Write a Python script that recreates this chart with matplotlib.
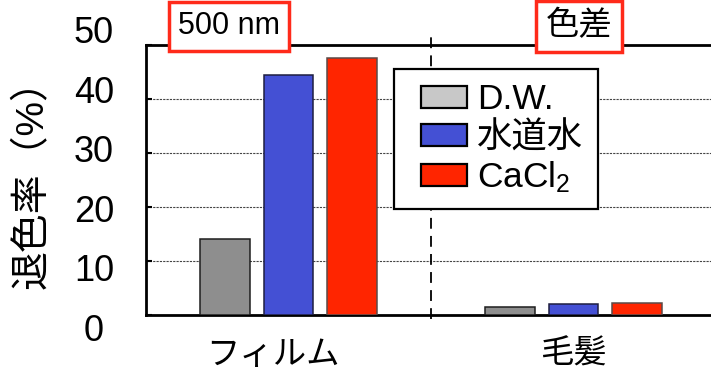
import matplotlib
matplotlib.use('Agg')
import matplotlib.pyplot as plt
import matplotlib.patches as mpatches
from matplotlib.legend_handler import HandlerPatch
from matplotlib.transforms import ScaledTranslation
import numpy as np

plt.rcParams['font.family'] = ['Liberation Sans', 'Noto Sans CJK JP']
plt.rcParams['mathtext.fontset'] = 'custom'
plt.rcParams['mathtext.rm'] = 'Liberation Sans'
plt.rcParams['mathtext.it'] = 'Liberation Sans:italic'

# data
categories = ['フィルム', '毛髪']
series_names = ['D.W.', '水道水', 'CaCl$_2$']
dw_values = [14.1, 1.5]
tap_values = [44.5, 2.1]
cacl2_values = [47.6, 2.2]
y_ticks = [0, 10, 20, 30, 40, 50]
panel_titles = ['500 nm', '色差']

bar_colors = ['#8e8e8e', '#4450d4', '#ff2500']
bar_edges = ['#1e1e1e', '#1e1e40', '#5a4a48']
legend_colors = ['#c8c8c8', '#4450d4', '#ff2500']

W, H = 711, 370
fig = plt.figure(figsize=(W / 100, H / 100), dpi=100)


def fpos(x, y):
    """Pixel position (from top-left) to figure fraction."""
    return x / W, 1 - y / H


ax = fig.add_axes([146 / W, 55 / H, (716 - 146) / W, 270 / H])

x = np.arange(len(categories))
offset, width = 0.222, 0.175
for i, vals in enumerate([dw_values, tap_values, cacl2_values]):
    ax.bar(x + (i - 1) * offset, vals, width, color=bar_colors[i],
           edgecolor=bar_edges[i], linewidth=1.1, zorder=3)

ax.set_xlim(-0.5, 1.5)
ax.set_ylim(0, 50)

for side in ['left', 'top', 'bottom']:
    ax.spines[side].set_linewidth(2)
    ax.spines[side].set_color('black')
ax.spines['right'].set_visible(False)

ax.set_axisbelow(True)
ax.yaxis.grid(True, linestyle=(0, (2, 1)), linewidth=0.8, color='#444444')

# y ticks: inward, labels centred left of the axis
ax.set_yticks(y_ticks)
ax.set_yticklabels([str(v) for v in y_ticks])
ax.tick_params(axis='y', direction='in', length=4, width=1.5,
               labelsize=26, pad=37.4)
for v, lab in zip(y_ticks, ax.get_yticklabels()):
    lab.set_ha('center')
    dy = 12.5 - 0.556 * v
    lab.set_transform(lab.get_transform() +
                      ScaledTranslation(0, -dy / 100, fig.dpi_scale_trans))

# category labels
ax.set_xticks(x)
ax.set_xticklabels(categories)
ax.tick_params(axis='x', length=0, labelsize=24, pad=18)
first = ax.get_xticklabels()[0]
first.set_transform(first.get_transform() +
                    ScaledTranslation(-16 / 100, 0, fig.dpi_scale_trans))

# y axis label
fig.text(*fpos(32, 175), '退色率（%）', rotation=90, ha='center',
         va='center', fontsize=28)

# divider between the two panels
ax.plot([0.5, 0.5], [-0.7, 52.2], color='black', linewidth=1.3,
        linestyle=(0, (6, 4)), clip_on=False, zorder=2)

# panel titles in red boxes
box = dict(boxstyle='square,pad=0.3', facecolor='white',
           edgecolor='#ff2a1a', linewidth=2.5)
fig.text(*fpos(229, 26.5), panel_titles[0], ha='center', va='center',
         fontsize=22, bbox=box)
fig.text(*fpos(579, 26.5), panel_titles[1], ha='center', va='center',
         fontsize=24, bbox=box)


# legend with inset rectangles
def inset_rect(legend, orig_handle, xdescent, ydescent, width, height,
               fontsize):
    rw, rh = 33.1, 15.8
    return mpatches.Rectangle((-xdescent + width - rw,
                               -ydescent + (height - rh) / 2), rw, rh)


handles = [mpatches.Patch(facecolor=c, edgecolor='black', linewidth=1.6)
           for c in legend_colors]
leg = ax.legend(handles, series_names, loc='upper left',
                bbox_to_anchor=fpos(394, 69), bbox_transform=fig.transFigure,
                borderaxespad=0, fontsize=25.5, handlelength=1.65,
                handleheight=0.62, handletextpad=0.3, labelspacing=0.14,
                borderpad=0.4, fancybox=False, framealpha=1,
                handler_map={mpatches.Patch: HandlerPatch(patch_func=inset_rect)})
leg.get_frame().set_edgecolor('black')
leg.get_frame().set_linewidth(1.6)
leg.set_zorder(5)

fig.savefig('out.png', dpi=100)
